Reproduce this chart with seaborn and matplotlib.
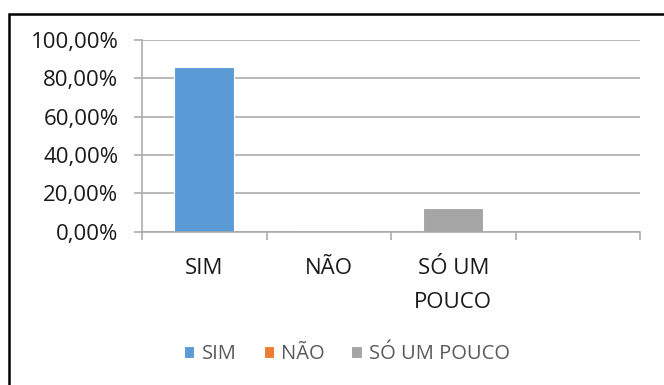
import matplotlib
matplotlib.use("Agg")
import matplotlib.pyplot as plt
from matplotlib.patches import Rectangle
from matplotlib.ticker import FixedLocator, FuncFormatter
import seaborn as sns
import pandas as pd

categories = ["SIM", "NÃO", "SÓ UM POUCO"]
tick_labels = ["SIM", "NÃO", "SÓ UM\nPOUCO"]
values = [0.857, 0.0, 0.125]
colors = ["#5B9BD5", "#ED7D31", "#A5A5A5"]
y_ticks = [0, 0.2, 0.4, 0.6, 0.8, 1.0]

sns.set_theme(style="white")
plt.rcParams["font.family"] = ["Open Sans", "DejaVu Sans"]

df = pd.DataFrame({"resposta": categories, "valor": values})

fig = plt.figure(figsize=(6.64, 3.85), dpi=100)
ax = fig.add_axes([142 / 664, 1 - 231.7 / 385, (640 - 142) / 664, (231.7 - 40) / 385])

sns.barplot(data=df, x="resposta", y="valor", hue="resposta", palette=colors,
            saturation=1, dodge=False, width=0.48, ax=ax, legend=True,
            edgecolor="white", linewidth=0.8)

ax.set_xlim(-0.5, 3.5)
ax.set_ylim(0, 1.0)
ax.set_xlabel("")
ax.set_ylabel("")

grid_c = "#A6A6A6"
text_c = "#1a1a1a"
ax.yaxis.set_major_locator(FixedLocator(y_ticks))
ax.yaxis.set_major_formatter(FuncFormatter(lambda v, p: f"{v * 100:.2f}%".replace(".", ",")))
ax.grid(axis="y", color=grid_c, linewidth=1.1)
ax.set_axisbelow(True)

ax.set_xticks([0, 1, 2])
ax.set_xticklabels(tick_labels, linespacing=1.8)
ax.set_xticks([-0.5, 0.5, 1.5, 2.5, 3.5], minor=True)
ax.tick_params(axis="x", which="major", length=0, pad=19, labelsize=16, labelcolor=text_c)
ax.tick_params(axis="x", which="minor", length=6, width=1.1, color=grid_c, direction="out", bottom=True)
ax.tick_params(axis="y", length=6, width=1.1, color=grid_c, direction="out", left=True,
               labelsize=16, labelcolor=text_c, pad=11)

for s in ["top", "right"]:
    ax.spines[s].set_visible(False)
for s in ["left", "bottom"]:
    ax.spines[s].set_color(grid_c)
    ax.spines[s].set_linewidth(1.1)

leg = ax.legend(loc="center", ncol=3, frameon=False,
                handlelength=0.5, handleheight=0.5, handletextpad=0.35, columnspacing=1.35,
                fontsize=14.5, labelcolor="#595959")
leg.set_bbox_to_anchor((347 / 664, 1 - 354 / 385), transform=fig.transFigure)

fig.patches.append(Rectangle((9 / 664, -0.05), 1.0, 1 - 14 / 385 + 0.05,
                             transform=fig.transFigure, fill=False,
                             edgecolor="black", linewidth=1.8, zorder=10))

fig.savefig("out.png", dpi=100)
